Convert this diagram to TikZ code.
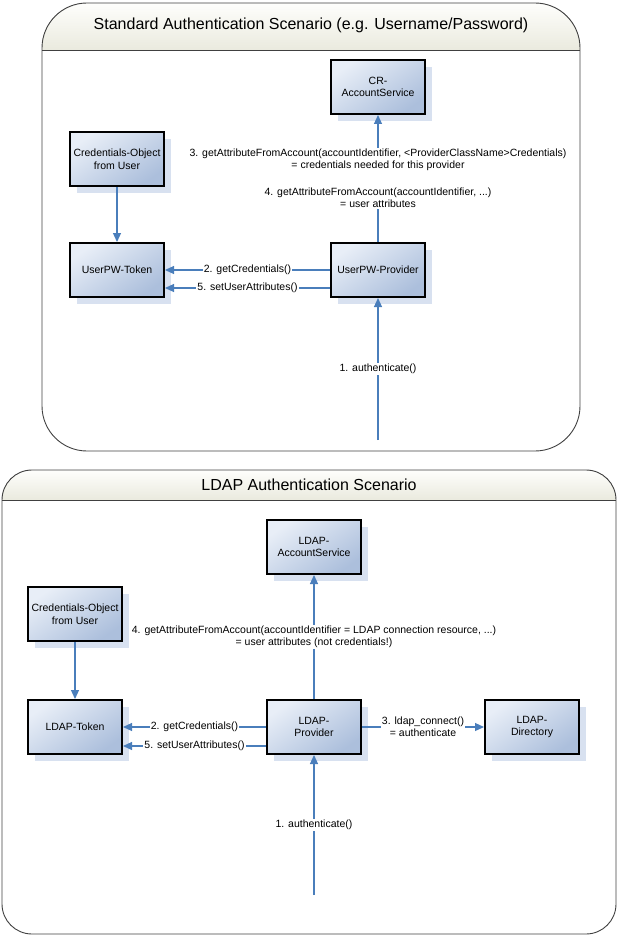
\documentclass[tikz,border=0pt]{standalone}
\usepackage{fontspec}
\setmainfont{Liberation Sans}
\usepackage{xcolor}
\usetikzlibrary{arrows.meta,positioning,shadows}

\definecolor{boxtop}{RGB}{232,238,247}
\definecolor{boxbot}{RGB}{172,191,220}
\definecolor{boxshade}{RGB}{216,225,240}
\definecolor{flowblue}{RGB}{74,126,187}
\definecolor{hdrtop}{RGB}{254,254,252}
\definecolor{hdrbot}{RGB}{234,234,222}

\begin{document}
\begin{tikzpicture}[x=1pt, y=-1pt,
  comp/.style={draw=black, line width=2pt, minimum width=94pt, minimum height=54pt,
    inner xsep=1pt, top color=boxtop, bottom color=boxbot, shading angle=35,
    align=center, font=\fontsize{10.5}{12.5}\selectfont,
    general shadow={fill=boxshade, shadow xshift=7pt, shadow yshift=-7pt}},
  flow/.style={draw=flowblue, line width=1.2pt, -{Triangle[length=9pt,width=8pt]}},
  link/.style={draw=flowblue, line width=1.2pt},
  msg/.style={fill=white, inner sep=1pt, align=center, font=\fontsize{10.5}{12}\selectfont},
  frame/.style={draw=black!75, line width=0.9pt},
  hdr/.style={top color=hdrtop, bottom color=hdrbot},
  title/.style={font=\fontsize{16}{19}\selectfont}]
  \useasboundingbox (0,0) rectangle (618,936);

  % standard scenario
  \begin{scope}
    \clip[rounded corners=45] (42,3) rectangle (580,451);
    \fill[hdr] (42,3) rectangle (580,50);
  \end{scope}
  \draw[frame, rounded corners=45] (42,3) rectangle (580,451);
  \draw[frame] (42,50) -- (580,50);
  \node[title] (t1) at (311,25) {Standard Authentication Scenario (e.g. Username/Password)};

  \node[comp] (cr) at (378,87) {CR-\\AccountService};
  \node[comp] (cred1) at (117,159) {Credentials-Object\\from User};
  \node[comp] (tok1) at (117,270) {UserPW-Token};
  \node[comp] (prov1) at (378,270) {UserPW-Provider};
  \node[msg] (m3) at (378,160) {3. getAttributeFromAccount(accountIdentifier, <ProviderClassName>Credentials)\\= credentials needed for this provider};
  \node[msg] (m4) at (378,198) {4. getAttributeFromAccount(accountIdentifier, ...)\\= user attributes};
  \coordinate (in1) at (378,440);

  \draw[flow] (cred1) -- (tok1);
  \draw[flow] (prov1) -- node[msg] {2. getCredentials()} (tok1);
  \draw[flow] ([yshift=-18pt]prov1.west) -- node[msg] {5. setUserAttributes()} ([yshift=-18pt]tok1.east);
  \draw[link] (prov1) -- (m4);
  \draw[flow] (m3) -- (cr);
  \draw[flow] (in1) -- node[msg] {1. authenticate()} (prov1);

  % ldap scenario
  \begin{scope}
    \clip[rounded corners=30] (2,470) rectangle (616,934);
    \fill[hdr] (2,470) rectangle (616,500);
  \end{scope}
  \draw[frame, rounded corners=30] (2,470) rectangle (616,934);
  \draw[frame] (2,500) -- (616,500);
  \node[title] (t2) at (309,485) {LDAP Authentication Scenario};

  \node[comp] (acc2) at (314,547) {LDAP-\\AccountService};
  \node[comp] (cred2) at (75,614) {Credentials-Object\\from User};
  \node[comp] (tok2) at (75,727) {LDAP-Token};
  \node[comp] (prov2) at (314,727) {LDAP-\\Provider};
  \node[comp] (dir2) at (532,727) {LDAP-\\Directory};
  \coordinate (in2) at (314,895);

  \draw[flow] (cred2) -- (tok2);
  \draw[flow] (prov2) -- node[msg] {2. getCredentials()} (tok2);
  \draw[flow] ([yshift=-19pt]prov2.west) -- node[msg] {5. setUserAttributes()} ([yshift=-19pt]tok2.east);
  \draw[flow] (prov2) -- node[msg] {3. ldap\_connect()\\= authenticate} (dir2);
  \draw[flow] (prov2) -- node[msg] {4. getAttributeFromAccount(accountIdentifier = LDAP connection resource, ...)\\= user attributes (not credentials!)} (acc2);
  \draw[flow] (in2) -- node[msg] {1. authenticate()} (prov2);
\end{tikzpicture}
\end{document}
